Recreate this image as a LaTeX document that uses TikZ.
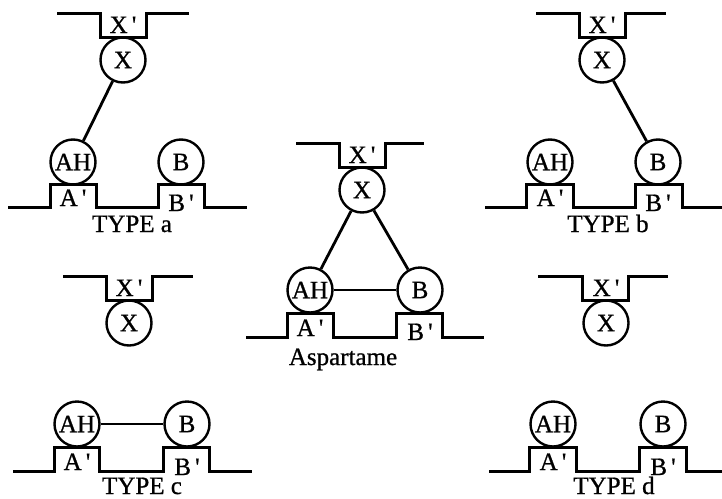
\documentclass[tikz,border=0pt]{standalone}
\usepackage{fontspec}
\setmainfont{Liberation Serif}
\newfontfamily\scanfont{Liberation Serif}[FakeBold=0.8]
\begin{document}
\begin{tikzpicture}[x=1pt,y=-1pt,
    site/.style={circle,draw,line width=2.4pt,inner sep=0pt,minimum size=45pt,font=\scanfont\fontsize{25}{27}\selectfont},
    lbl/.style={anchor=base,inner sep=0pt,font=\scanfont\fontsize{25}{27}\selectfont},
    wall/.style={line width=3pt,line join=miter},
    bond/.style={line width=2.8pt},
    hbond/.style={line width=2pt}]
\useasboundingbox (0,0) rectangle (722,498);

\draw[wall] (57,13) -- (100,13) -- (100,37) -- (146,37) -- (146,13) -- (189,13);
\draw[wall] (8,207) -- (50,207) -- (50,184) -- (96,184) -- (96,207) -- (158,207) -- (158,184) -- (204,184) -- (204,207) -- (247,207);
\node[lbl] (Xpa) at (123,33) {X\,\textquotesingle};
\node[site] (Xa) at (123,60) {X};
\node[site] (AHa) at (73,162) {AH};
\node[site] (Ba) at (181,162) {B};
\node[lbl] (Apa) at (73,206) {A\,\textquotesingle};
\node[lbl] (Bpa) at (181,211) {B\,\textquotesingle};
\node[lbl] (Ta) at (132,232) {TYPE a};
\draw[bond] (Xa) -- (AHa);

\draw[wall] (536,13) -- (579,13) -- (579,37) -- (625,37) -- (625,13) -- (666,13);
\draw[wall] (485,207) -- (526,207) -- (526,184) -- (573,184) -- (573,207) -- (635,207) -- (635,184) -- (682,184) -- (682,207) -- (722,207);
\node[lbl] (Xpb) at (602,33) {X\,\textquotesingle};
\node[site] (Xb) at (602,60) {X};
\node[site] (AHb) at (550,162) {AH};
\node[site] (Bb) at (658,162) {B};
\node[lbl] (Apb) at (550,206) {A\,\textquotesingle};
\node[lbl] (Bpb) at (658,211) {B\,\textquotesingle};
\node[lbl] (Tb) at (608,232) {TYPE b};
\draw[bond] (Xb) -- (Bb);

\draw[wall] (296,143) -- (339,143) -- (339,167) -- (385,167) -- (385,143) -- (424,143);
\draw[wall] (246,337) -- (287,337) -- (287,313) -- (333,313) -- (333,337) -- (396,337) -- (396,313) -- (442,313) -- (442,337) -- (484,337);
\node[lbl] (Xps) at (362,163) {X\,\textquotesingle};
\node[site] (Xs) at (362,190) {X};
\node[site] (AHs) at (310,290) {AH};
\node[site] (Bs) at (420,290) {B};
\node[lbl] (Aps) at (310,336) {A\,\textquotesingle};
\node[lbl] (Bps) at (420,340) {B\,\textquotesingle};
\node[lbl] (Ts) at (343,365) {Aspartame};
\draw[bond] (Xs) -- (AHs);
\draw[bond] (Xs) -- (Bs);
\draw[hbond] (AHs) -- (Bs);

\draw[wall] (63,276) -- (106,276) -- (106,300) -- (152,300) -- (152,276) -- (193,276);
\node[lbl] (Xpl) at (129,296) {X\,\textquotesingle};
\node[site] (Xl) at (129,323) {X};

\draw[wall] (538,276) -- (582,276) -- (582,300) -- (628,300) -- (628,276) -- (668,276);
\node[lbl] (Xpr) at (606,296) {X\,\textquotesingle};
\node[site] (Xr) at (606,323) {X};

\draw[wall] (13,471) -- (54,471) -- (54,447) -- (99,447) -- (99,471) -- (163,471) -- (163,447) -- (209,447) -- (209,471) -- (252,471);
\node[site] (AHc) at (77,424) {AH};
\node[site] (Bc) at (187,424) {B};
\node[lbl] (Apc) at (77,470) {A\,\textquotesingle};
\node[lbl] (Bpc) at (187,475) {B\,\textquotesingle};
\node[lbl] (Tc) at (142,494) {TYPE c};
\draw[hbond] (AHc) -- (Bc);

\draw[wall] (489,471) -- (529,471) -- (529,447) -- (576,447) -- (576,471) -- (639,471) -- (639,447) -- (686,447) -- (686,471) -- (722,471);
\node[site] (AHd) at (553,424) {AH};
\node[site] (Bd) at (663,424) {B};
\node[lbl] (Apd) at (553,470) {A\,\textquotesingle};
\node[lbl] (Bpd) at (663,475) {B\,\textquotesingle};
\node[lbl] (Td) at (614,494) {TYPE d};
\end{tikzpicture}
\end{document}
